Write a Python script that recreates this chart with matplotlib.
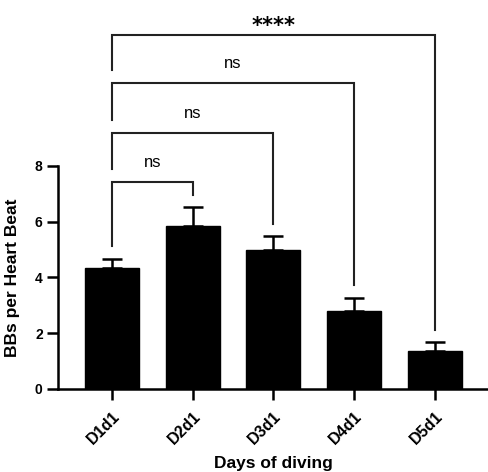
import matplotlib
matplotlib.use("Agg")
import matplotlib.pyplot as plt
import numpy as np

categories = ["D1d1", "D2d1", "D3d1", "D4d1", "D5d1"]
means = [4.34, 5.84, 4.98, 2.80, 1.36]
errors = [0.32, 0.68, 0.50, 0.46, 0.32]
comparisons = [(0, 1), (0, 2), (0, 3), (0, 4)]
comp_labels = ["ns", "ns", "ns", "****"]
bracket_heights = [7.42, 9.18, 10.97, 12.69]

plt.rcParams['font.family'] = ['Liberation Sans', 'DejaVu Sans']

fig = plt.figure(figsize=(4.89, 4.72), dpi=100)
ax = fig.add_axes([58/489, (472-389)/472, (488-58)/489, 389/472])

x = np.arange(len(categories))
ax.bar(x, means, width=0.67, color='black', edgecolor='black', zorder=2)
ax.errorbar(x, means, yerr=[np.zeros(len(means)), errors], fmt='none',
            ecolor='black', elinewidth=1.8, capsize=7, capthick=1.8, zorder=1)

ax.set_xlim(-0.67, 4.66)
ax.set_ylim(0, 13.94)
ax.spines['top'].set_visible(False)
ax.spines['right'].set_visible(False)
ax.spines['left'].set_bounds(0, 8)
ax.spines['left'].set_linewidth(1.8)
ax.spines['bottom'].set_linewidth(1.8)
ax.set_yticks([0, 2, 4, 6, 8])
ax.set_yticklabels(['0', '2', '4', '6', '8'], fontweight='bold', fontsize=10)
ax.set_xticks(x)
ax.set_xticklabels(categories, rotation=45, ha='right', rotation_mode='anchor',
                   fontweight='bold', fontsize=11.5)
ax.tick_params(axis='both', width=1.8, length=8)
ax.tick_params(axis='y', pad=3)
ax.tick_params(axis='x', pad=6)
ax.set_ylabel('BBs per Heart Beat', fontweight='bold', fontsize=12.5)
ax.yaxis.set_label_coords(-0.088, 0.285)
ax.set_xlabel('Days of diving', fontweight='bold', fontsize=12.5)
ax.xaxis.set_label_coords(0.5, -0.172)

gap = 0.45
tops = [m + e for m, e in zip(means, errors)]
for i, ((a, b), lab, h) in enumerate(zip(comparisons, comp_labels, bracket_heights)):
    left_end = tops[a] + gap if i == 0 else bracket_heights[i-1] + gap
    right_end = tops[b] + gap
    ax.plot([a, a, b, b], [left_end, h, h, right_end], color='#222222', lw=1.5,
            clip_on=False, solid_joinstyle='miter')
    if lab == 'ns':
        ax.text((a + b) / 2, h + 0.52, lab, ha='center', va='baseline', fontsize=12)
    else:
        ax.text((a + b) / 2, h + 0.1, lab, ha='center', va='baseline', fontsize=15,
                fontweight='bold', family='DejaVu Sans')

fig.savefig('out.png', dpi=100)
